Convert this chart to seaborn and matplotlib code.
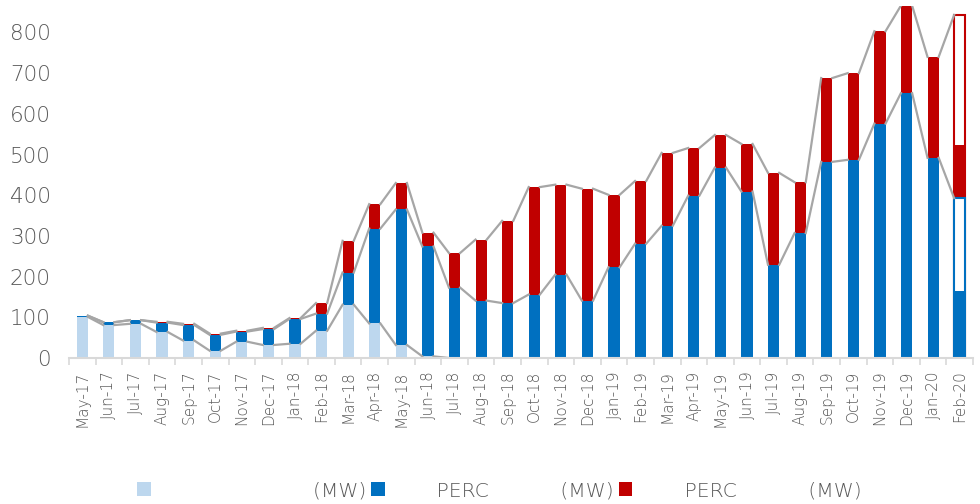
import numpy as np
import pandas as pd
import matplotlib
matplotlib.use("Agg")
import matplotlib.pyplot as plt
from matplotlib.patches import Patch
import seaborn as sns

# monthly shipments, MW
months = ["May-17", "Jun-17", "Jul-17", "Aug-17", "Sep-17", "Oct-17", "Nov-17", "Dec-17",
          "Jan-18", "Feb-18", "Mar-18", "Apr-18", "May-18", "Jun-18", "Jul-18", "Aug-18",
          "Sep-18", "Oct-18", "Nov-18", "Dec-18", "Jan-19", "Feb-19", "Mar-19", "Apr-19",
          "May-19", "Jun-19", "Jul-19", "Aug-19", "Sep-19", "Oct-19", "Nov-19", "Dec-19",
          "Jan-20", "Feb-20"]
conventional = [101, 81, 84, 64, 43, 18, 40, 32, 35, 67, 131, 85, 32, 4, 0, 0,
                0, 0, 0, 0, 0, 0, 0, 0, 0, 0, 0, 0, 0, 0, 0, 0, 0, 0]
mono_perc = [3, 7, 9, 23, 38, 39, 25, 39, 61, 42, 79, 233, 333, 270, 173, 141,
             135, 156, 205, 141, 223, 281, 325, 399, 468, 409, 229, 307, 482, 487, 576, 651,
             492, 393]
bifacial_perc = [0, 0, 0, 2, 3, 3, 2, 3, 2, 26, 78, 60, 65, 34, 85, 150,
                 202, 264, 221, 275, 178, 154, 179, 117, 80, 117, 226, 125, 206, 213, 227, 215,
                 248, 450]
# Feb-20: only part of the month is filled in
feb20_mono_done = 165
feb20_bifacial_done = 131

LIGHT = "#BDD7EE"
BLUE = "#0070C0"
RED = "#C00000"
GREY = "#595959"
WIDTH = 0.42

plt.rcParams["font.family"] = ["DejaVu Sans"]
plt.rcParams["font.weight"] = "light"

df = pd.DataFrame({"month": months, "light": conventional,
                   "blue": mono_perc, "red": bifacial_perc})
df["mid"] = df["light"] + df["blue"]
df["total"] = df["mid"] + df["red"]
n = len(df)
last = n - 1

red_fill = df["total"].astype(float).to_numpy()
red_fill[last] = df["mid"].iloc[last] + feb20_bifacial_done
blue_fill = df["mid"].astype(float).to_numpy()
blue_fill[last] = df["light"].iloc[last] + feb20_mono_done
outline_total = np.full(n, np.nan)
outline_total[last] = df["total"].iloc[last]
outline_mid = np.full(n, np.nan)
outline_mid[last] = df["mid"].iloc[last]

fig = plt.figure(figsize=(9.8, 5.04), dpi=100)
ax = fig.add_axes([69 / 980, 146 / 504, 904 / 980, 352 / 504])

common = dict(x=months, order=months, width=WIDTH, saturation=1, errorbar=None, ax=ax)
sns.barplot(y=outline_total, color="white", edgecolor=RED, linewidth=1.5, **common)
sns.barplot(y=red_fill, color=RED, linewidth=0, **common)
sns.barplot(y=outline_mid, color="white", edgecolor=BLUE, linewidth=1.5, **common)
sns.barplot(y=blue_fill, color=BLUE, linewidth=0, **common)
sns.barplot(y=df["light"].to_numpy(), color=LIGHT, linewidth=0, **common)

# series lines between bar edges
x = np.arange(n)
hw = WIDTH / 2
for col in ["light", "mid", "total"]:
    v = df[col].to_numpy()
    for i in range(n - 1):
        if v[i] == 0 and v[i + 1] == 0:
            continue
        ax.plot([x[i] + hw, x[i + 1] - hw], [v[i], v[i + 1]], color="#A6A6A6", lw=1.6, zorder=2)

ax.set_xlim(-0.5, n - 0.5)
ax.set_ylim(0, 865)
ax.set_xticks(x)
ax.set_xticklabels(months, rotation=90, fontsize=11, color=GREY)
ax.set_xticks(np.arange(-0.5, n, 1), minor=True)
ax.tick_params(axis="x", which="major", length=0, pad=9)
ax.tick_params(axis="x", which="minor", length=5, width=1.2, color="#D9D9D9")
ax.set_yticks(range(0, 900, 100))
ax.tick_params(axis="y", length=0, pad=13, labelsize=15.5, labelcolor=GREY)
ax.set_xlabel("")
ax.set_ylabel("")
for s in ["left", "top", "right"]:
    ax.spines[s].set_visible(False)
ax.spines["bottom"].set_color("#D9D9D9")
ax.spines["bottom"].set_linewidth(1.5)

handles = [Patch(facecolor=LIGHT), Patch(facecolor=BLUE), Patch(facecolor=RED)]
labels = [" " * 24 + "(MW)",
          " " * 7 + "PERC" + " " * 11 + "(MW)",
          " " * 7 + "PERC" + " " * 11 + "(MW)"]
fig.legend(handles, labels, loc="center", bbox_to_anchor=(499 / 980, 13 / 504), ncol=3,
           frameon=False, fontsize=14.6, handlelength=0.68, handleheight=0.68,
           handletextpad=0.3, columnspacing=0.25, labelcolor=GREY)

fig.savefig("out.png", dpi=100)
